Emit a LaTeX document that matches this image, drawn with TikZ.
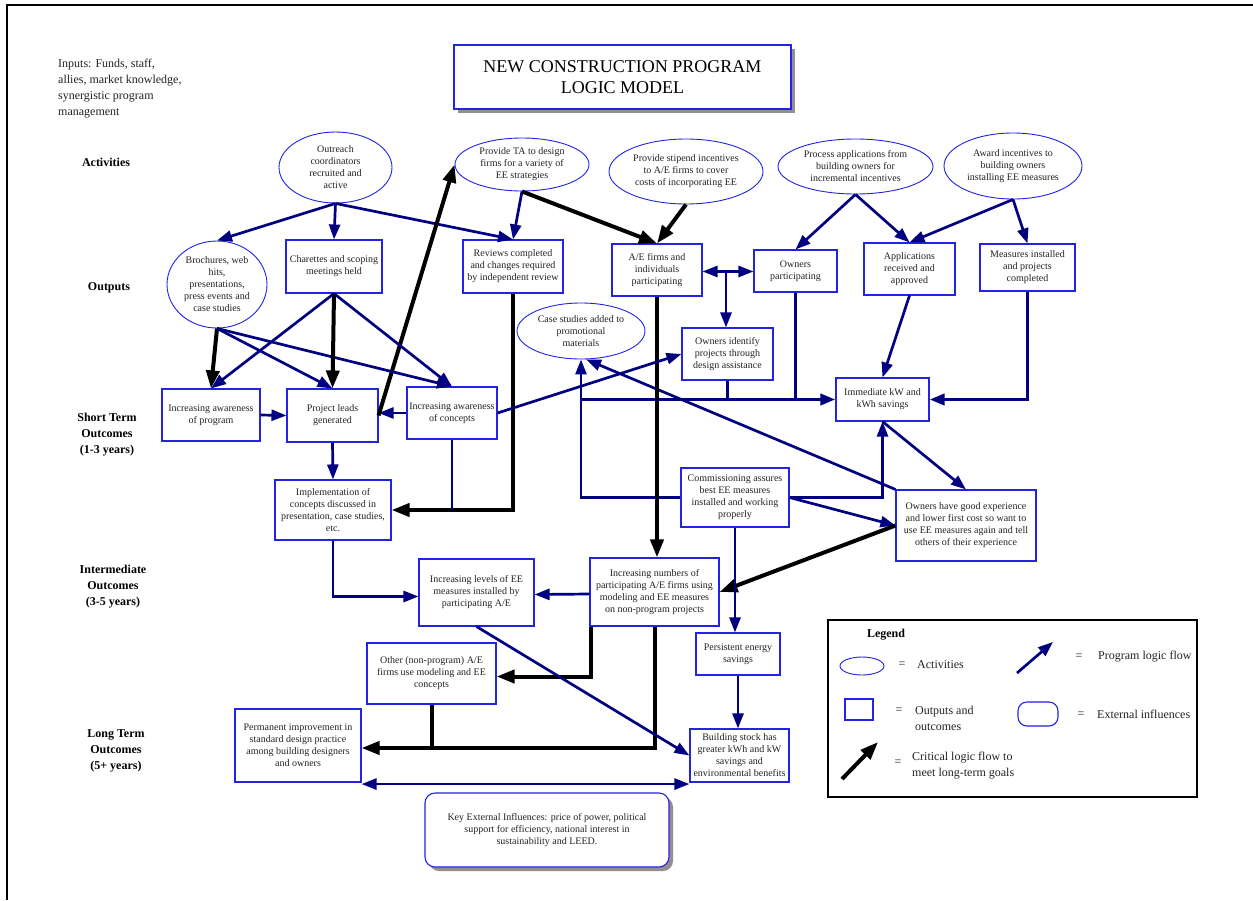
\documentclass[tikz,border=0pt]{standalone}
\usepackage{fontspec}
\setmainfont{Liberation Serif}
\usetikzlibrary{shapes.geometric,arrows.meta,shadows}
\definecolor{nodeblue}{RGB}{35,35,228}
\definecolor{navyl}{RGB}{0,0,128}
\definecolor{txt}{RGB}{35,35,35}
\definecolor{shadowc}{RGB}{150,142,142}
\newcommand{\fsn}{\fontsize{10}{12}\selectfont}
\newcommand{\fsl}{\fontsize{12}{16}\selectfont}
\newcommand{\fst}{\fontsize{18}{21}\selectfont}
\begin{document}
\begin{tikzpicture}[x=1pt,y=-1pt,
 sz/.style 2 args={minimum width=#1pt,minimum height=#2pt},
 box/.style={draw=nodeblue,line width=1.1pt,fill=white,text=txt,align=center,font=\fsn,inner sep=0pt},
 ell/.style={ellipse,draw=nodeblue,line width=0.9pt,fill=white,text=txt,align=center,font=\fsn,inner sep=0pt},
 flow/.style={draw=navyl,line width=2.7pt,-{Triangle[length=15pt,width=11pt]}},
 flowline/.style={draw=navyl,line width=2.7pt},
 crit/.style={draw=black,line width=4pt,-{Triangle[length=18pt,width=13pt]}},
 critline/.style={draw=black,line width=4pt},
 lab/.style={font=\bfseries\fsl,align=center,text=black},
 legt/.style={font=\fsl,text=txt,align=left,anchor=west,inner sep=0pt},
 eq/.style={font=\fsl,text=txt,inner sep=0pt},
]
\useasboundingbox (0,0) rectangle (1253,900);
\fill[white] (0,0) rectangle (1253,900);
% frame
\draw[line width=2pt] (7,900) -- (7,5) -- (1253,5);

% title and inputs
\node[draw=nodeblue,line width=1.1pt,fill=white,text=black,align=center,font=\fst,inner sep=0pt,sz={337}{64},
  drop shadow={shadow xshift=4pt,shadow yshift=-4pt,fill=shadowc,opacity=1}] (title) at (622.5,77) {NEW CONSTRUCTION PROGRAM\\LOGIC MODEL};
\node[font=\fsl,text=txt,align=left,anchor=west,inner sep=0pt] (inputs) at (58,89) {Inputs: Funds, staff,\\allies, market knowledge,\\synergistic program\\management};

% row labels
\node[lab] (lact) at (106,162) {Activities};
\node[lab] (lout) at (109,288) {Outputs};
\node[lab] (lshort) at (107,435) {Short Term\\Outcomes\\(1-3 years)};
\node[lab] (linter) at (113,587) {Intermediate\\Outcomes\\(3-5 years)};
\node[lab] (llong) at (116,751) {Long Term\\Outcomes\\(5+ years)};

% activities
\node[ell,sz={113}{71}] (outreach) at (335.5,167.5) {Outreach\\coordinators\\recruited and\\active};
\node[ell,sz={134}{53}] (provideTA) at (522,164.5) {Provide TA to design\\firms for a variety of\\EE strategies};
\node[ell,sz={154}{65}] (stipend) at (686,171.5) {Provide stipend incentives\\to A/E firms to cover\\costs of incorporating EE};
\node[ell,sz={155}{55}] (process) at (855.5,166.5) {Process applications from\\building owners for\\incremental incentives};
\node[ell,sz={138}{66}] (award) at (1013,166) {Award incentives to\\building owners\\installing EE measures};

% outputs
\node[ell,sz={100}{87}] (brochures) at (217,284.5) {Brochures, web\\hits,\\presentations,\\press events and\\case studies};
\node[box,sz={96}{53}] (charettes) at (334,266.5) {Charettes and scoping\\meetings held};
\node[box,sz={100}{53}] (reviews) at (513,266.5) {Reviews completed\\and changes required\\by independent review};
\node[box,sz={90}{52}] (aefirms) at (657,270) {A/E firms and\\individuals\\participating};
\node[box,sz={83}{42}] (ownpart) at (795.5,271) {Owners\\participating};
\node[box,sz={91}{52}] (applic) at (909.5,269) {Applications\\received and\\approved};
\node[box,sz={95}{47}] (measures) at (1027.5,267.5) {Measures installed\\and projects\\completed};

% short term
\node[ell,sz={128}{56}] (casestud) at (581,331) {Case studies added to\\promotional\\materials};
\node[box,sz={91}{52}] (ownident) at (727.5,354) {Owners identify\\projects through\\design assistance};
\node[box,sz={98}{52}] (awprog) at (211,415) {Increasing awareness\\of program};
\node[box,sz={91}{53}] (leads) at (332.5,415.5) {Project leads\\generated};
\node[box,sz={90}{52}] (awconc) at (452,413) {Increasing awareness\\of concepts};
\node[box,sz={93}{43}] (immediate) at (882.5,399.5) {Immediate kW and\\kWh savings};
\node[box,sz={116}{60}] (implement) at (333,510) {Implementation of\\concepts discussed in\\presentation, case studies,\\etc.};
\node[box,sz={108}{59}] (commiss) at (735,497.5) {Commissioning assures\\best EE measures\\installed and working\\properly};
\node[box,sz={140}{71}] (ownexp) at (966,525.5) {Owners have good experience\\and lower first cost so want to\\use EE measures again and tell\\others of their experience};

% intermediate
\node[box,sz={115}{67}] (inclevels) at (476.5,592.5) {Increasing levels of EE\\measures installed by\\participating A/E};
\node[box,sz={129}{68}] (incnum) at (654.5,592) {Increasing numbers of\\participating A/E firms using\\modeling and EE measures\\on non-program projects};
\node[box,sz={84}{42}] (persist) at (738,654) {Persistent energy\\savings};
\node[box,sz={129}{61}] (other) at (431.5,673.5) {Other (non-program) A/E\\firms use modeling and EE\\concepts};

% long term
\node[box,sz={126}{73}] (permanent) at (298,745.5) {Permanent improvement in\\standard design practice\\among building designers\\and owners};
\node[box,sz={99}{53}] (bldg) at (739.5,755.5) {Building stock has\\greater kWh and kW\\savings and\\environmental benefits};
\node[box,sz={244}{74},rounded corners=10pt,drop shadow={shadow xshift=4pt,shadow yshift=-4pt,fill=shadowc,opacity=1}] (keyext) at (547,830) {Key External Influences: price of power, political\\support for efficiency, national interest in\\sustainability and LEED.};

% ---------- connectors ----------
\draw[flow] (outreach.south) -- (brochures.north);
\draw[flow] (outreach.south) -- (charettes.north);
\draw[flow] (outreach.south) -- (reviews.north);
\draw[flow] (provideTA.south) -- (reviews.north);
\draw[crit] (provideTA.south) -- (aefirms.north);
\draw[crit] (stipend.south) -- (aefirms.north);
\draw[flow] (process.south) -- (ownpart.north);
\draw[flow] (process.south) -- (applic.north);
\draw[flow] (award.south) -- (applic.north);
\draw[flow] (award.south) -- (measures.north);

\draw[navyl,line width=2.7pt,{Triangle[length=15pt,width=11pt]}-{Triangle[length=15pt,width=11pt]}] ([yshift=-1.5pt]aefirms.east) -- ([yshift=-1.5pt]aefirms.east -| ownpart.west);
\coordinate (j1) at (726,271.5);
\draw[flow] (j1) -- (j1 |- ownident.north);

\draw[flow] (applic.south) -- (immediate.north);
\draw[flow,line width=3.6pt] (measures.south) |- (immediate.east);

\coordinate (hj) at (casestud.south |- immediate.west);
\coordinate (hk) at (ownpart.south |- immediate.west);
\draw[flowline] (ownpart.south) -- (hk);
\draw[flowline] (ownident.south) -- (ownident.south |- immediate.west);
\draw[flowline] (hj) -- (hk);
\draw[flow,line width=3.6pt] (hk) -- (immediate.west);
\draw[flow] (commiss.west) -| (casestud.south);
\draw[flow] (commiss.east) -| (immediate.south);
\draw[flow] (commiss.east) -- (ownexp.west);
\draw[flow] (immediate.south) -- (ownexp.north);
\draw[flow] (ownexp.north west) -- (casestud.-80);
\draw[crit] (ownexp.west) -- (incnum.east);
\draw[crit] (aefirms.south) -- (aefirms.south |- incnum.north);

\draw[crit] (reviews.south) |- (implement.east);
\draw[flowline] (awconc.south) -- (awconc.south |- implement.east);
\draw[flow] (awconc.east) -- (ownident.west);
\draw[flow] (awconc.west) -- (awconc.west -| leads.east);
\draw[crit] (leads.east) -- (provideTA.west);
\draw[flow] (awprog.east) -- (leads.west);

\draw[crit] (brochures.south) -- (awprog.north);
\draw[flow] (brochures.south) -- (leads.north);
\draw[flow] (brochures.south) -- (awconc.north);
\draw[flow] (charettes.south) -- (awprog.north);
\draw[crit] (charettes.south) -- (leads.north);
\draw[flow] (charettes.south) -- (awconc.north);
\draw[flow] (leads.south) -- (implement.north);

\draw[flow] (implement.south) |- ([yshift=-4pt]inclevels.west);
\draw[flow] ([yshift=-2pt]incnum.west) -- ([yshift=-2pt]inclevels.east);
\draw[crit] ([xshift=2pt]incnum.south west) |- ([yshift=-3pt]other.east);
\draw[crit] (incnum.south) |- ([yshift=-2.5pt]permanent.east);
\draw[critline] (other.south) -- (other.south |- 0,748);
\draw[flow] (inclevels.south) -- (bldg.west);
\draw[flow] (commiss.south) -- (commiss.south |- persist.north);
\draw[flow] (persist.south) -- (persist.south |- bldg.north);
\draw[navyl,line width=2.7pt,{Triangle[length=15pt,width=11pt]}-{Triangle[length=15pt,width=11pt]}] ([yshift=-1.5pt]permanent.south east) -- ([yshift=-1.5pt]bldg.south west);

% ---------- legend ----------
\draw[line width=1.6pt] (828,620) rectangle (1197,797);
\node[font=\bfseries\fsl,text=black] (legtitle) at (886,635) {Legend};
\node[ellipse,draw=nodeblue,line width=0.9pt,inner sep=0pt,sz={44}{18}] (legell) at (862,666) {};
\node[eq] (eq1) at (902,665) {=};
\node[legt] (lt1) at (917,665) {Activities};
\node[draw=nodeblue,line width=1.1pt,inner sep=0pt,sz={28}{21}] (legbox) at (859,709.5) {};
\node[eq] (eq2) at (899,711) {=};
\node[legt] (lt2) at (915,718) {Outputs and\\outcomes};
\coordinate (ca) at (842,779);
\coordinate (cb) at (878,742);
\draw[crit] (ca) -- (cb);
\node[eq] (eq3) at (898,763) {=};
\node[legt] (lt3) at (912,766) {Critical logic flow to\\meet long-term goals};
\coordinate (fa) at (1017,673);
\coordinate (fb) at (1053,642);
\draw[flow] (fa) -- (fb);
\node[eq] (eq4) at (1079,657) {=};
\node[legt] (lt4) at (1098,657) {Program logic flow};
\node[draw=nodeblue,line width=1.1pt,rounded corners=9pt,inner sep=0pt,sz={40}{24}] (legrnd) at (1038,714) {};
\node[eq] (eq5) at (1081,715) {=};
\node[legt] (lt5) at (1097,714) {External influences};
\end{tikzpicture}
\end{document}
